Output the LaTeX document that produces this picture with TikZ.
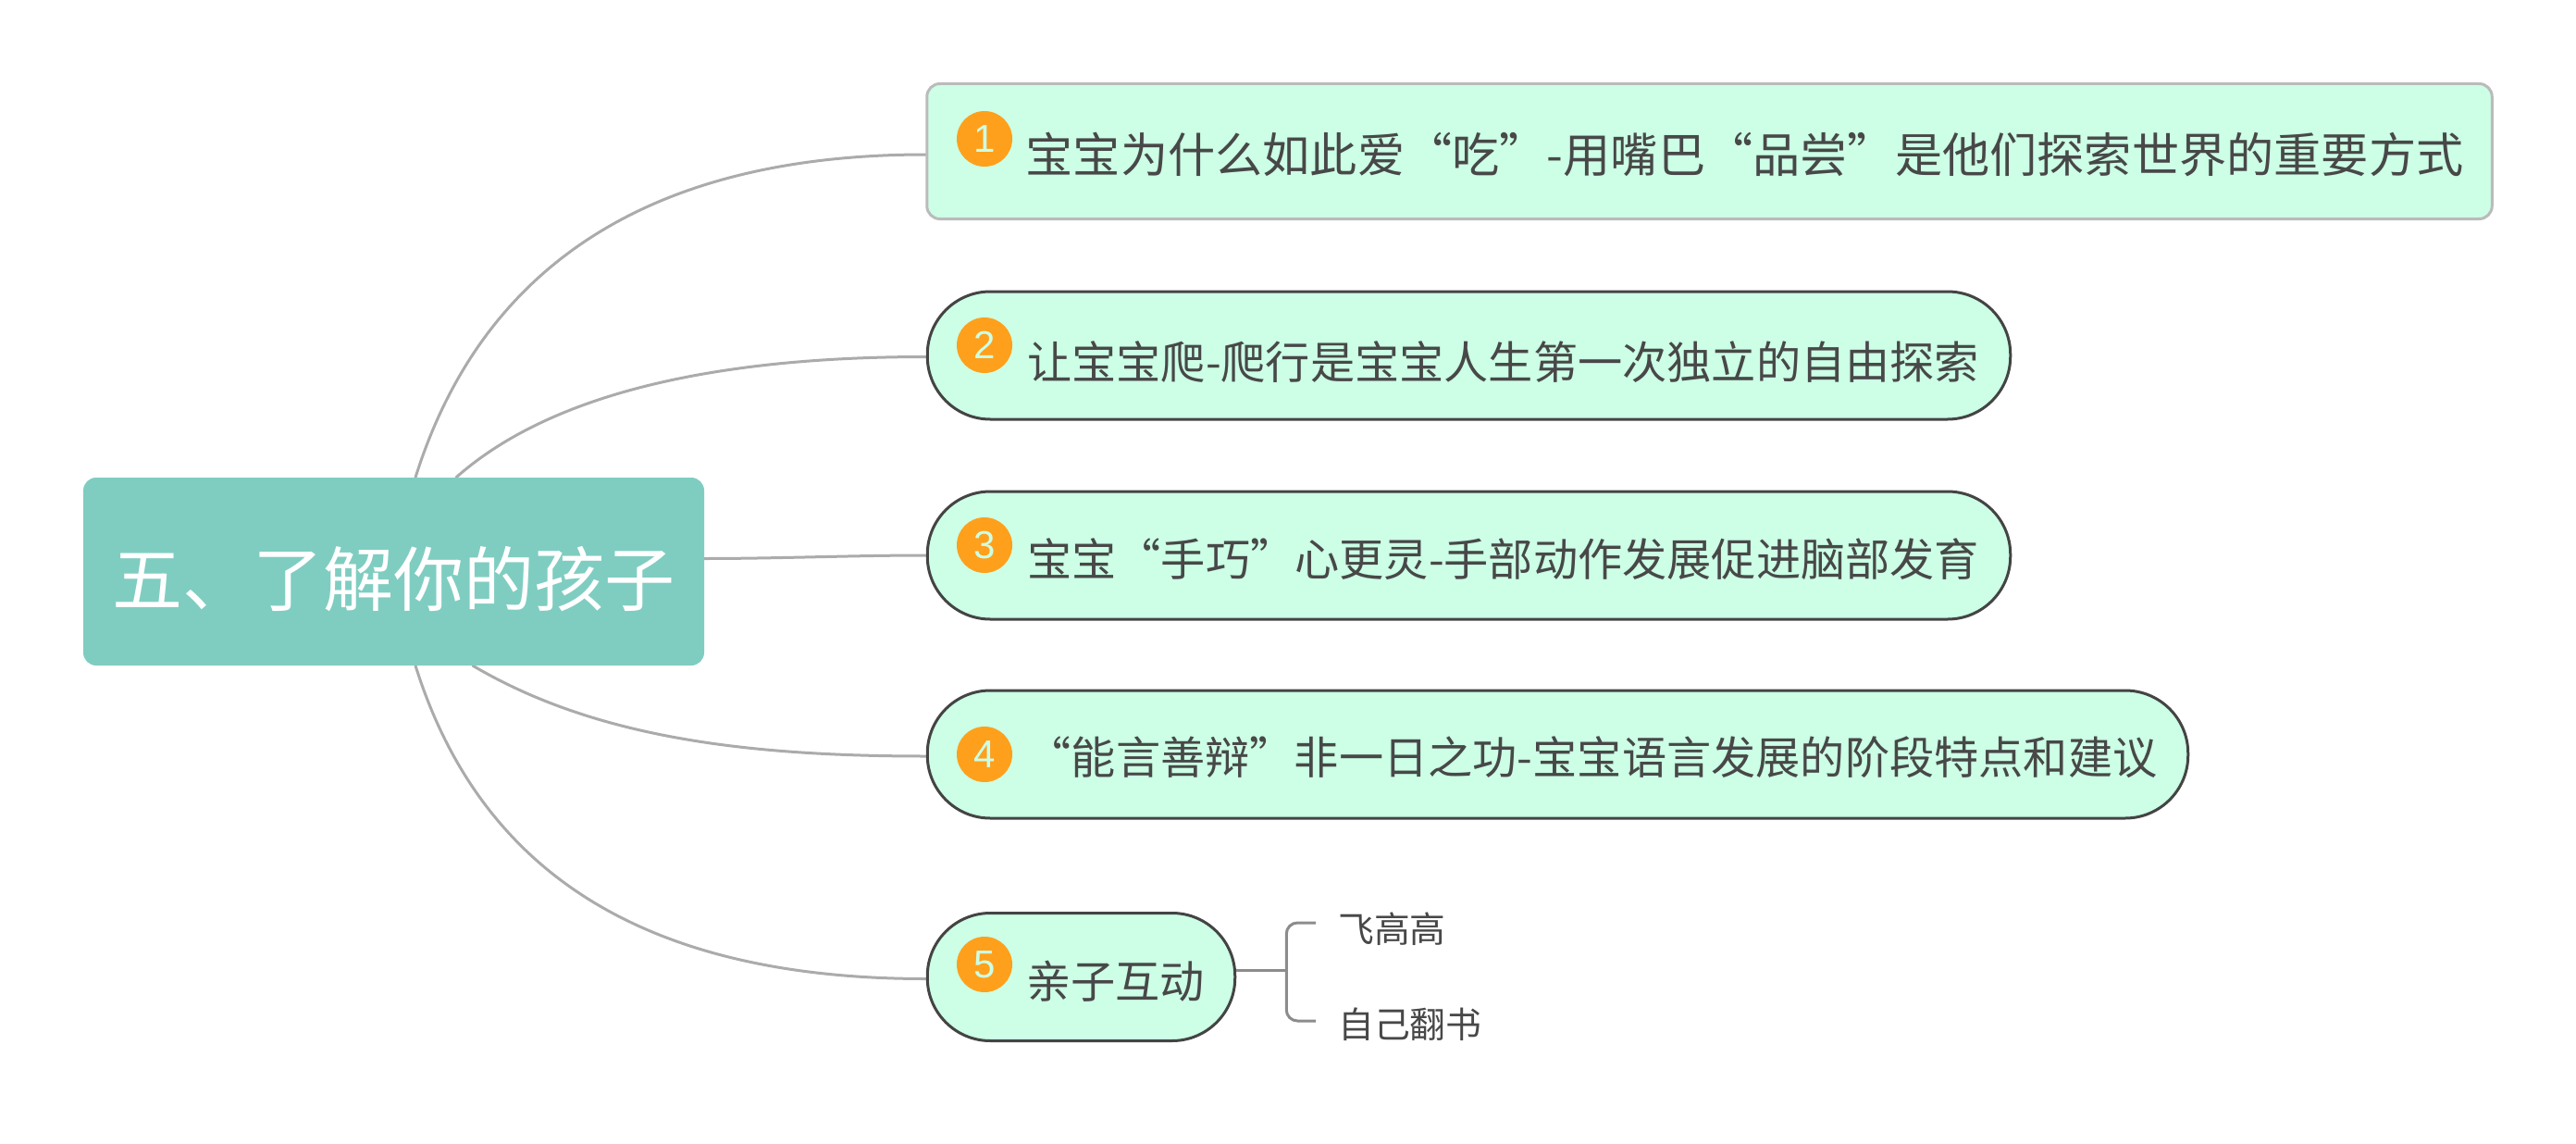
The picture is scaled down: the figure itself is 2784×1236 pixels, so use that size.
\documentclass[tikz,border=0pt]{standalone}
\usepackage{fontspec}
\usetikzlibrary{backgrounds}
\setmainfont{Noto Sans CJK SC}
\newfontfamily\digitfont{Liberation Sans}
\newcommand{\lbl}[3]{\hspace*{#1pt}\rlap{\raisebox{-#2pt}[0pt][0pt]{#3}}}
\definecolor{rootfill}{HTML}{7FCDC1}
\definecolor{topicfill}{HTML}{CCFFE6}
\definecolor{inkc}{HTML}{484848}
\definecolor{linec}{HTML}{ABABAB}
\definecolor{bracketc}{HTML}{8C8C8C}
\definecolor{edgec}{HTML}{444444}
\definecolor{paleedge}{HTML}{BBBBBB}
\definecolor{badge}{HTML}{FFA01C}
\tikzset{
  rootbox/.style={fill=rootfill,rounded corners=14pt,inner sep=0pt,text=white,font=\fontsize{76}{80}\selectfont,minimum width=671pt,minimum height=203pt},
  topicbox/.style={fill=topicfill,draw=edgec,line width=3pt,rounded corners=68pt,inner sep=0pt,text=inkc,align=flush left,font=\fontsize{48.2}{54}\selectfont,minimum height=138pt},
  squarebox/.style={topicbox,draw=paleedge,rounded corners=14pt,font=\fontsize{51.2}{56}\selectfont,minimum height=146pt},
  badgec/.style={circle,fill=badge,inner sep=0pt,minimum size=60pt,text=topicfill,font=\digitfont\fontsize{42}{46}\selectfont},
  subtext/.style={inner sep=0pt,text=inkc,font=\fontsize{38.8}{44}\selectfont,anchor=west},
  branch/.style={draw=linec,line width=3pt,line cap=round},
  bracket/.style={draw=bracketc,line width=3pt}
}
\begin{document}
\begin{tikzpicture}[x=1pt,y=-1pt]
\useasboundingbox (0,0) rectangle (2784,1236);
\node[rootbox] (root) at (425.5,617.5) {\raisebox{-36.5pt}[0pt][0pt]{五、了解你的孩子}};
\node[squarebox,text width=1691.5pt] (n1) at (1847.5,163.5) {\lbl{107}{23}{宝宝为什么如此爱“吃”-用嘴巴“品尝”是他们探索世界的重要方式}};
\node[topicbox,text width=1170.5pt] (n2) at (1587.5,384) {\lbl{108}{25}{让宝宝爬-爬行是宝宝人生第一次独立的自由探索}};
\node[topicbox,text width=1170.5pt] (n3) at (1587.5,600) {\lbl{108}{22}{宝宝“手巧”心更灵-手部动作发展促进脑部发育}};
\node[topicbox,text width=1362.5pt] (n4) at (1683.5,815) {\lbl{107.5}{21.5}{“能言善辩”非一日之功-宝宝语言发展的阶段特点和建议}};
\node[topicbox,text width=332.5pt] (n5) at (1168.5,1055.5) {\lbl{107}{22.5}{亲子互动}};
\node[badgec] (b1) at (1064,150) {1};
\node[badgec] (b2) at (1064,373) {2};
\node[badgec] (b3) at (1064,589) {3};
\node[badgec] (b4) at (1064,815) {4};
\node[badgec] (b5) at (1064,1042) {5};
\node[subtext] (s1) at (1446,1004) {飞高高};
\node[subtext] (s2) at (1446,1107) {自己翻书};
\begin{scope}[on background layer]
\draw[branch] ([xshift=23.5pt]root.north) .. controls +(71,-226) and +(-301,0) .. ([yshift=-3.5pt]n1.west);
\draw[branch] ([xshift=67.5pt]root.north) .. controls +(97,-86) and +(-241,0) .. ([yshift=-1.5pt]n2.west);
\draw[branch] ([yshift=14pt]root.east) .. controls +(80,0) and +(-80,0) .. (n3.west);
\draw[branch] ([xshift=85.5pt]root.south) .. controls +(129,76) and +(-201,0) .. ([yshift=-2pt]n4.west);
\draw[branch] ([xshift=23.5pt]root.south) .. controls +(71,226) and +(-301,0) .. ([yshift=-2pt]n5.west);
\end{scope}
\coordinate (fork) at ([yshift=7.5pt,xshift=54pt]n5.east);
\draw[bracket] ([yshift=7.5pt]n5.east) -- (fork);
\draw[bracket,rounded corners=12pt] ([xshift=-24pt,yshift=7pt]s1.west) -| (fork) |- ([xshift=-24pt,yshift=4pt]s2.west);
\end{tikzpicture}
\end{document}
